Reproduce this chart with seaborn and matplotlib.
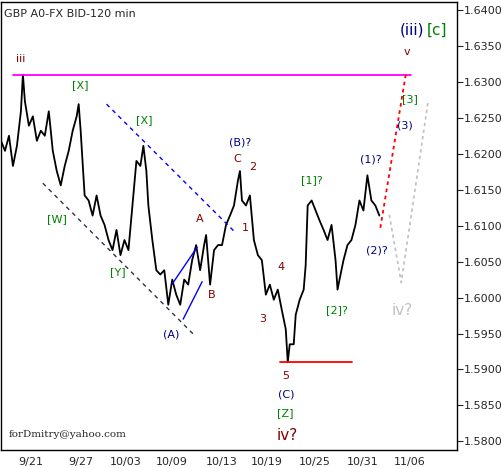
import matplotlib
matplotlib.use("Agg")
import matplotlib.pyplot as plt
import seaborn as sns
import pandas as pd

bar_x = [0,4,8,12,16,20,22,24,28,32,36,40,44,48,52,56,60,64,68,72,76,78,80,84,88,92,96,100,104,108,112,116,120,124,128,132,136,140,143,146,148,152,156,160,164,168,172,176,180,184,188,192,196,200,204,206,210,214,218,222,226,230,234,238,240,242,246,250,254,258,262,266,270,274,278,282,286,288,290,294,296,300,304,306,308,312,316,320,324,328,332,336,338,340,344,348,352,356,360,364,368,372,376,380]
price = [1.6218,1.6204,1.6225,1.6183,1.6211,1.6259,1.6310,1.6273,1.6239,1.6252,1.6218,1.6232,1.6225,1.6259,1.6204,1.6176,1.6156,1.6183,1.6204,1.6232,1.6252,1.6269,1.6232,1.6142,1.6135,1.6114,1.6142,1.6114,1.6101,1.6080,1.6066,1.6094,1.6059,1.6080,1.6066,1.6128,1.6190,1.6183,1.6211,1.6176,1.6128,1.6080,1.6038,1.6032,1.6038,1.5990,1.6025,1.6004,1.5990,1.6025,1.6018,1.6052,1.6073,1.6038,1.6073,1.6087,1.6018,1.6066,1.6073,1.6073,1.6101,1.6114,1.6128,1.6163,1.6176,1.6135,1.6128,1.6142,1.6080,1.6059,1.6052,1.6004,1.6018,1.5997,1.6011,1.5983,1.5956,1.5910,1.5935,1.5935,1.5976,1.5997,1.6011,1.6045,1.6128,1.6135,1.6121,1.6107,1.6094,1.6080,1.6101,1.6052,1.6011,1.6025,1.6052,1.6073,1.6080,1.6101,1.6135,1.6121,1.6170,1.6135,1.6128,1.6114]

date_pos = [30,80,125,172,222,267,315,363,410]
date_labels = ["9/21","9/27","10/03","10/09","10/13","10/19","10/25","10/31","11/06"]
minor_pos = [15,30,50,65,80,97,112,125,142,158,172,190,205,222,240,254,267,283,300,315,332,348,363,378,395,410,432,447]
y_ticks = [1.5800,1.5850,1.5900,1.5950,1.6000,1.6050,1.6100,1.6150,1.6200,1.6250,1.6300,1.6350,1.6400]

DR = "#800000"; NV = "#000080"; GR = "#008000"; LG = "#c0c0c0"
labels = [
    ("iii",20,1.6332,DR),("[X]",80,1.6295,GR),("[X]",144,1.6247,GR),("[W]",56,1.6109,GR),
    ("[Y]",117,1.6036,GR),("A",200,1.6109,DR),("(B)?",240,1.6215,NV),("C",237,1.6192,DR),
    ("2",253,1.6182,DR),("1",245,1.6097,DR),("4",281,1.6043,DR),("3",263,1.5970,DR),
    ("B",212,1.6004,DR),("(A)",171,1.5949,NV),("5",286,1.5891,DR),("(C)",286,1.5865,NV),
    ("[Z]",285,1.5840,GR),("[1]?",312,1.6164,GR),("[2]?",337,1.5982,GR),
    ("(1)?",371,1.6192,NV),("(2)?",378,1.6066,NV),("v",408,1.6342,DR),("[3]",411,1.6276,GR),
    ("(3)",406,1.6239,NV),
]

sns.set_style("white")
plt.rcParams['font.family'] = ['DejaVu Sans']
fig = plt.figure(figsize=(5.02,4.68), dpi=100)
ax = fig.add_axes([0.002, 1-450/468, 456/502, 448/468])
df = pd.DataFrame({"x": bar_x, "p": price})
sns.lineplot(data=df, x="x", y="p", color="black", lw=1.3, ax=ax)

ax.plot([12,412],[1.6310,1.6310], color="#ff00ff", lw=1.3)
ax.plot([280,353],[1.5910,1.5910], color="red", lw=1.3)
ax.plot([106,235],[1.6269,1.6091], color="blue", lw=1, ls=(0,(3,3)))
ax.plot([42,194],[1.6159,1.5948], color="#303050", lw=1, ls=(0,(3,3)))
ax.plot([172,197],[1.6019,1.6070], color="blue", lw=1)
ax.plot([183,202],[1.5970,1.6022], color="blue", lw=1)
ax.plot([381,407],[1.6097,1.6314], color="red", lw=1.3, ls=(0,(2,2)))
ax.plot([390,402,429],[1.6115,1.6021,1.6273], color=LG, lw=1.2, ls=(0,(2,2)))

for t,x,y,c in labels:
    ax.text(x,y,t,color=c,fontsize=8,ha="center",va="center")
ax.text(287,1.5808,"iv?",color=DR,fontsize=11,ha="center",va="center")
ax.text(403,1.5982,"iv?",color=LG,fontsize=11,ha="center",va="center")
ax.text(413,1.6372,"(iii)",color=NV,fontsize=11,ha="center",va="center")
ax.text(438,1.6372,"[c]",color=GR,fontsize=11,ha="center",va="center")
ax.text(3,1.6395,"GBP A0-FX BID-120 min",fontsize=8,ha="left",va="center")
ax.text(8,1.5810,"forDmitry@yahoo.com",fontsize=7.5,ha="left",va="center",family="DejaVu Serif")

ax.set_xlim(0,458)
ax.set_ylim(1.5788,1.6411)
ax.yaxis.tick_right()
ax.set_yticks(y_ticks)
ax.set_yticklabels([f"{v:.4f}" for v in y_ticks], fontsize=8)
ax.set_xticks(date_pos)
ax.set_xticklabels(date_labels, fontsize=8)
ax.set_xticks(minor_pos, minor=True)
ax.tick_params(axis="both", which="both", direction="out", length=4, width=0.8, pad=1)
ax.set_xlabel(""); ax.set_ylabel("")
for s in ax.spines.values():
    s.set_color("black"); s.set_linewidth(1)
fig.savefig("out.png", dpi=100)
